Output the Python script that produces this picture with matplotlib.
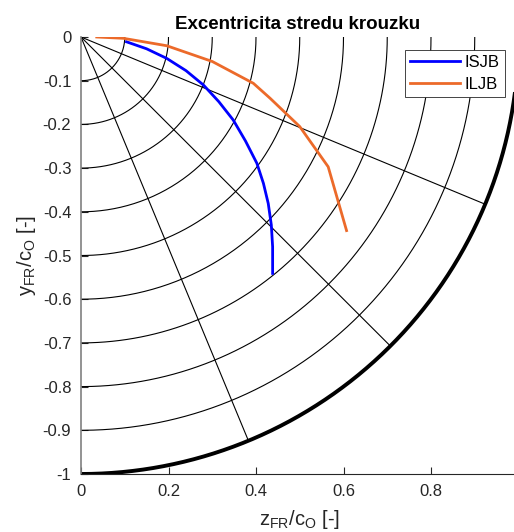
import numpy as np
import matplotlib
matplotlib.use('Agg')
import matplotlib.pyplot as plt

plt.rcParams['font.family'] = ['Liberation Sans', 'DejaVu Sans']
plt.rcParams['mathtext.fontset'] = 'custom'
plt.rcParams['mathtext.rm'] = 'Liberation Sans'
plt.rcParams['mathtext.it'] = 'Liberation Sans'

# polar grid: circle radii and ray angles (deg below horizontal)
radii = [0.1, 0.2, 0.3, 0.4, 0.5, 0.6, 0.7, 0.8, 0.9]
ray_angles = [22.5, 45, 67.5]

# ISJB
isjb_z = [0.104, 0.150, 0.196, 0.240, 0.280, 0.315, 0.348, 0.376, 0.402, 0.417, 0.428, 0.435, 0.438, 0.438]
isjb_y = [-0.011, -0.027, -0.049, -0.077, -0.110, -0.148, -0.190, -0.238, -0.289, -0.335, -0.381, -0.430, -0.480, -0.541]

# ILJB
iljb_z = [0.036, 0.097, 0.196, 0.300, 0.394, 0.432, 0.500, 0.565, 0.607]
iljb_y = [0.000, -0.003, -0.020, -0.056, -0.106, -0.140, -0.205, -0.297, -0.443]

xticks = [0, 0.2, 0.4, 0.6, 0.8]
yticks = [0, -0.1, -0.2, -0.3, -0.4, -0.5, -0.6, -0.7, -0.8, -0.9, -1]
ytick_labels = ['0', '-0.1', '-0.2', '-0.3', '-0.4', '-0.5', '-0.6', '-0.7', '-0.8', '-0.9', '-1']

W, H = 514, 532
fig = plt.figure(figsize=(W / 100, H / 100), dpi=100)
x0, y_top, y_bot = 81, 37, 474
ax = fig.add_axes([x0 / W, 1 - y_bot / H, (W - x0) / W, (y_bot - y_top) / H])

t = np.linspace(0, -np.pi / 2, 200)
for r in radii:
    ax.plot(r * np.cos(t), r * np.sin(t), color='k', lw=0.8)
ax.plot(np.cos(t), np.sin(t), color='k', lw=2.8, solid_capstyle='butt')
for a in ray_angles:
    ar = np.deg2rad(a)
    ax.plot([0, np.cos(ar)], [0, -np.sin(ar)], color='k', lw=0.8)

ax.plot(isjb_z, isjb_y, color='#0000ff', lw=2, label='ISJB')
ax.plot(iljb_z, iljb_y, color='#EC6A2A', lw=2, label='ILJB')

ax.set_xlim(0, (W - x0) / 437.5)
ax.set_ylim(-1, 0)
ax.set_xticks(xticks)
ax.set_xticklabels(['0', '0.2', '0.4', '0.6', '0.8'])
ax.set_yticks(yticks)
ax.set_yticklabels(ytick_labels)

for s in ['top', 'right']:
    ax.spines[s].set_visible(False)
ax.spines['left'].set_color('0.5')
ax.spines['left'].set_linewidth(1.2)
ax.spines['bottom'].set_color('0.15')
ax.spines['bottom'].set_linewidth(0.8)
ax.tick_params(direction='in', length=5, width=0.8, colors='0.15',
               labelsize=12, labelcolor='0.15', pad=7)

ax.set_title('Excentricita stredu krouzku', fontsize=13.5, fontweight='bold', pad=6)
ax.text(219 / (W - x0), -0.105, r'z$_{\mathrm{FR}}$/c$_{\mathrm{O}}$ [-]',
        transform=ax.transAxes, ha='center', va='center', fontsize=14.5, color='0.15')
ax.text(-54 / (W - x0), 0.5, r'y$_{\mathrm{FR}}$/c$_{\mathrm{O}}$ [-]', rotation=90,
        transform=ax.transAxes, ha='center', va='center', fontsize=14.5, color='0.15')

leg = ax.legend(loc='upper right', bbox_to_anchor=(0.979, 0.971), fontsize=12,
                handlelength=3.0, frameon=True, fancybox=False, borderpad=0.3,
                labelspacing=0.45, handletextpad=0.3, borderaxespad=0)
leg.get_frame().set_edgecolor('0.15')
leg.get_frame().set_linewidth(0.6)
leg.get_frame().set_alpha(1)

fig.savefig('out.png', dpi=100)
